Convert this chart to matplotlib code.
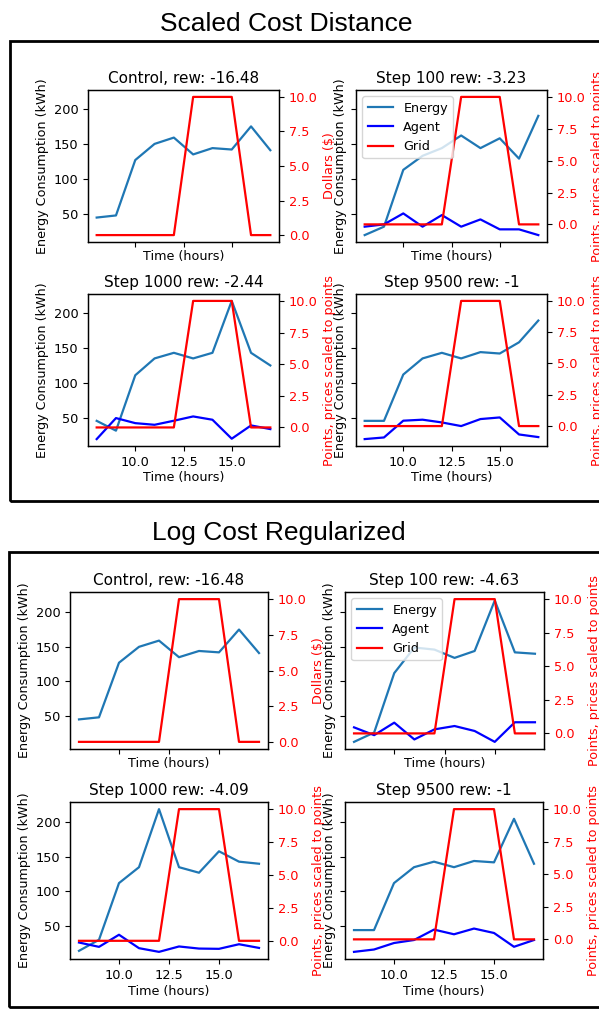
import matplotlib.pyplot as plt
from matplotlib.patches import Rectangle
from matplotlib.lines import Line2D

# data
hours = [8, 9, 10, 11, 12, 13, 14, 15, 16, 17]
grid_price = [0, 0, 0, 0, 0, 10, 10, 10, 0, 0]
control_energy = [45, 48, 127, 150, 159, 135, 144, 142, 175, 141]

# Scaled Cost Distance
sc_titles = ["Control, rew: -16.48", "Step 100 rew: -3.23", "Step 1000 rew: -2.44", "Step 9500 rew: -1"]
sc_100_energy = [20, 32, 113, 133, 144, 162, 144, 158, 129, 190]
sc_100_agent = [-0.18, 0.0, 0.86, -0.18, 0.73, -0.18, 0.39, -0.39, -0.39, -0.84]
sc_1000_energy = [46, 32, 111, 135, 143, 135, 143, 217, 143, 125]
sc_1000_agent = [-0.92, 0.74, 0.34, 0.21, 0.53, 0.87, 0.61, -0.89, 0.16, -0.13]
sc_9500_energy = [46, 46, 112, 135, 143, 135, 144, 142, 158, 189]
sc_9500_agent = [-1.04, -0.91, 0.43, 0.51, 0.29, 0.0, 0.56, 0.69, -0.67, -0.88]

# Log Cost Regularized
lc_titles = ["Control, rew: -16.48", "Step 100 rew: -4.63", "Step 1000 rew: -4.09", "Step 9500 rew: -1"]
lc_100_energy = [12.5, 26, 112, 149, 146, 134, 144, 217, 142, 140]
lc_100_agent = [0.45, -0.13, 0.8, -0.45, 0.3, 0.55, 0.18, -0.63, 0.83, 0.83]
lc_1000_energy = [14, 30, 112, 135, 219, 135, 127, 158, 143, 140]
lc_1000_agent = [-0.13, -0.46, 0.46, -0.56, -0.84, -0.43, -0.59, -0.61, -0.26, -0.54]
lc_9500_energy = [44, 44, 112, 135, 143, 135, 144, 142, 205, 140]
lc_9500_agent = [-0.96, -0.78, -0.28, -0.05, 0.75, 0.39, 0.83, 0.49, -0.57, -0.05]

W, H = 599, 1009
plt.rcParams['font.size'] = 9.2
plt.rcParams['xtick.labelsize'] = 9.3
plt.rcParams['ytick.labelsize'] = 9.3
plt.rcParams['lines.linewidth'] = 1.6
plt.rcParams['axes.linewidth'] = 0.9

fig = plt.figure(figsize=(W / 100, H / 100), dpi=100)


def px_axes(l, r, t, b, **kw):
    return fig.add_axes([l / W, 1 - b / H, (r - l) / W, (b - t) / H], **kw)


def draw_panel(boxes, titles, energies, agents, title, title_x, title_y, frame):
    # panel frame and big title
    fx0, fy0, fx1, fy1 = frame
    fig.patches.append(Rectangle((fx0 / W, 1 - fy1 / H), (fx1 - fx0) / W, (fy1 - fy0) / H,
                                 transform=fig.transFigure, fill=False, lw=2, ec='black'))
    fig.text(title_x / W, 1 - title_y / H, title, ha='center', va='baseline',
             fontsize=19, family='Liberation Sans')

    first = None
    for i, (box, ttl, en, ag) in enumerate(zip(boxes, titles, energies, agents)):
        if first is None:
            ax = px_axes(*box)
            first = ax
        else:
            ax = px_axes(*box, sharex=first, sharey=first)
        ax.plot(hours, en, color='#1f77b4', label='Energy')
        ax.set_title(ttl, fontsize=11, pad=5)
        ax.set_xlabel('Time (hours)', labelpad=2)
        ax.set_ylabel('Energy Consumption (kWh)', labelpad=3)
        if i < 2:
            ax.tick_params(labelbottom=False)
        if i % 2 == 1:
            ax.tick_params(labelleft=False)

        ax2 = ax.twinx()
        if ag is None:
            ax2.plot(hours, grid_price, color='r')
            ax2.set_ylabel('Dollars ($)', color='r')
        else:
            ax2.plot(hours, ag, color='b')
            ax2.plot(hours, grid_price, color='r')
            ax2.set_ylabel('Points, prices scaled to points', color='r')
        ax2.set_yticks([0, 2.5, 5, 7.5, 10])
        ax2.tick_params(axis='y', labelcolor='r')

        if i == 1:
            handles = [Line2D([], [], color='#1f77b4', lw=1.6), Line2D([], [], color='b', lw=1.6),
                       Line2D([], [], color='r', lw=1.6)]
            ax2.legend(handles, ['Energy', 'Agent', 'Grid'], loc='upper left', fontsize=9.2)

    first.set_yticks([50, 100, 150, 200])
    first.set_xticks([10, 12.5, 15])


draw_panel(
    [(88, 279, 90, 242), (356, 547, 90, 242), (88, 279, 294, 446), (356, 547, 294, 446)],
    sc_titles,
    [control_energy, sc_100_energy, sc_1000_energy, sc_9500_energy],
    [None, sc_100_agent, sc_1000_agent, sc_9500_agent],
    "Scaled Cost Distance", 286, 31, (10, 41, 640, 501))

draw_panel(
    [(70, 268, 592, 749), (345, 544, 592, 749), (70, 268, 802, 959), (345, 543, 802, 959)],
    lc_titles,
    [control_energy, lc_100_energy, lc_1000_energy, lc_9500_energy],
    [None, lc_100_agent, lc_1000_agent, lc_9500_agent],
    "Log Cost Regularized", 279, 540, (9, 552, 640, 1007))

fig.savefig('out.png', dpi=100)
